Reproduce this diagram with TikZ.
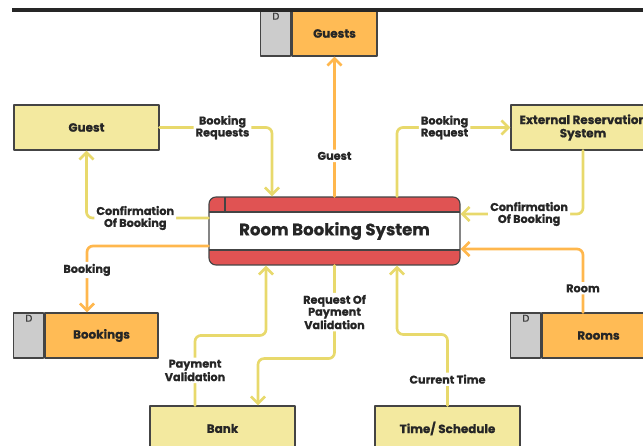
\documentclass[tikz,border=0pt]{standalone}
\usepackage{fontspec}
\setmainfont{Poppins}[FakeBold=0.8]
\usetikzlibrary{arrows.meta,positioning}
\definecolor{entyel}{HTML}{F3E99F}
\definecolor{flowyel}{HTML}{E8D96C}
\definecolor{storeorg}{HTML}{FFBB55}
\definecolor{floworg}{HTML}{FFB74D}
\definecolor{procred}{HTML}{E05353}
\definecolor{taggray}{HTML}{CCCCCC}
\definecolor{edgegray}{HTML}{444444}
\def\pxu{0.025cm}

\begin{document}
\begin{tikzpicture}[x=0.025cm,y=-0.025cm,line cap=round,line join=round,
  entity/.style={draw=edgegray,line width=0.8pt,fill=entyel,minimum width=145*\pxu,
    minimum height=45*\pxu,align=center,text=black!85,font=\fontsize{8.5}{9.5}\selectfont\bfseries},
  store/.style={draw=edgegray,line width=0.8pt,fill=storeorg,minimum width=113*\pxu,
    minimum height=45*\pxu,text=black!85,font=\fontsize{8.5}{9.5}\selectfont\bfseries},
  tag/.style={draw=edgegray,line width=0.8pt,fill=taggray,minimum width=30*\pxu,
    minimum height=45*\pxu,inner sep=0pt},
  dmark/.style={anchor=north,inner sep=1.5pt,text=black!75,font=\fontsize{7}{7}\selectfont},
  process/.style={draw=edgegray,line width=0.8pt,fill=white,rounded corners=7*\pxu,
    minimum width=251*\pxu,minimum height=68*\pxu,text=black!85,font=\fontsize{11.8}{12}\selectfont\bfseries,
    path picture={
      \fill[procred,sharp corners] (path picture bounding box.north west) rectangle ([yshift=-15*\pxu]path picture bounding box.north east);
      \fill[procred,sharp corners] (path picture bounding box.south west) rectangle ([yshift=15*\pxu]path picture bounding box.south east);
      \draw[edgegray,line width=0.8pt] ([yshift=-15*\pxu]path picture bounding box.north west) -- ([yshift=-15*\pxu]path picture bounding box.north east);
      \draw[edgegray,line width=0.8pt] ([yshift=15*\pxu]path picture bounding box.south west) -- ([yshift=15*\pxu]path picture bounding box.south east);
      \draw[edgegray,line width=0.8pt] ([xshift=16*\pxu]path picture bounding box.north west) -- ([xshift=16*\pxu,yshift=-15*\pxu]path picture bounding box.north west);
    }},
  flow/.style={line width=1.9pt,rounded corners=6*\pxu,-{Straight Barb[length=5pt,width=10pt]}},
  lbl/.style={fill=white,inner sep=1.5pt,align=center,text=black!85,font=\fontsize{8}{8.5}\selectfont\bfseries}]
  \useasboundingbox (0,0) rectangle (643,446);
  \clip (0,0) rectangle (643,446);
  \node[entity] (guest) at (86.5,127.5) {Guest};
  \node[entity,minimum width=144*\pxu] (ext) at (583,127.5) {External Reservation\\System};
  \node[entity] (bank) at (222.5,428.5) {Bank};
  \node[entity] (time) at (447.5,428.5) {Time/ Schedule};
  \node[store,minimum width=85*\pxu] (guests) at (334.5,33.5) {Guests};
  \node[tag,left=0pt of guests] (guestsTag) {};
  \node[dmark] (guestsD) at (guestsTag.north) {D};
  \node[store] (bookings) at (101.5,335.5) {Bookings};
  \node[tag,left=0pt of bookings] (bookingsTag) {};
  \node[dmark] (bookingsD) at (bookingsTag.north) {D};
  \node[store] (rooms) at (598.5,335.5) {Rooms};
  \node[tag,left=0pt of rooms] (roomsTag) {};
  \node[dmark] (roomsD) at (roomsTag.north) {D};
  \node[process] (rbs) at (334.5,231) {Room Booking System};
  \draw[flow,flowyel] (guest.east) -| node[lbl,pos=0.28] {Booking\\Requests} ([xshift=-62.5*\pxu]rbs.north);
  \draw[flow,flowyel] ([yshift=13*\pxu]rbs.west) -| node[lbl,pos=0.3] {Confirmation\\Of Booking} (guest.south);
  \draw[flow,floworg] ([yshift=-15*\pxu]rbs.west) -| node[lbl,pos=0.68] {Booking} ([xshift=-14.5*\pxu]bookings.north);
  \draw[flow,floworg] (rbs.north) -- node[lbl,pos=0.29] {Guest} (guests.south);
  \draw[flow,flowyel] ([xshift=62.5*\pxu]rbs.north) |- node[lbl,pos=0.71] {Booking\\Request} (ext.west);
  \draw[flow,flowyel] (ext.south) |- node[lbl,pos=0.72] {Confirmation\\Of Booking} ([yshift=17*\pxu]rbs.east);
  \draw[flow,floworg] ([xshift=-15.5*\pxu]rooms.north) |- node[lbl,pos=0.19] {Room} ([yshift=-18*\pxu]rbs.east);
  \draw[flow,flowyel] ([xshift=-27.5*\pxu]bank.north) -- node[lbl] {Payment\\Validation} ++(0,-70) -| ([xshift=-68.5*\pxu]rbs.south);
  \draw[flow,flowyel] (rbs.south) -- node[lbl] {Request Of\\Payment\\Validation} ++(0,93) -| ([xshift=35.5*\pxu]bank.north);
  \draw[flow,flowyel] (time.north) -- node[lbl,pos=0.37] {Current Time} ++(0,-71) -| ([xshift=62.5*\pxu]rbs.south);
  \draw[line width=2.2pt,black!85,line cap=butt] (12,10) -- (643,10);
\end{tikzpicture}
\end{document}
